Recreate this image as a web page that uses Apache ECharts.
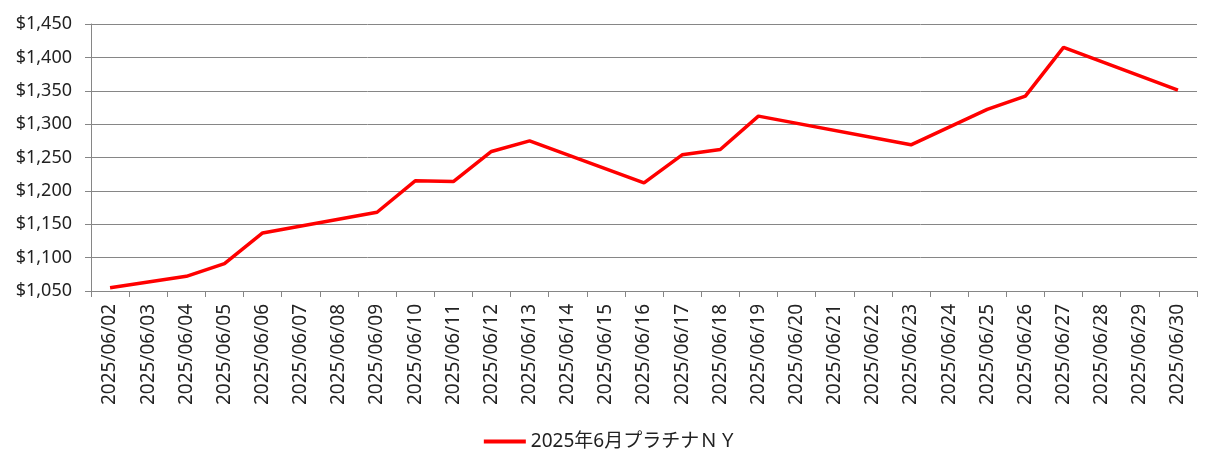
<!DOCTYPE html>
<html><head><meta charset="utf-8">
<script src="https://cdn.jsdelivr.net/npm/echarts@6/dist/echarts.min.js"></script>
<style>html,body{margin:0;padding:0;background:#fff}#c{width:1221px;height:471px}</style>
</head><body><div id="c"></div>
<script>
const categories = ["2025/06/02","2025/06/03","2025/06/04","2025/06/05","2025/06/06","2025/06/07","2025/06/08","2025/06/09","2025/06/10","2025/06/11","2025/06/12","2025/06/13","2025/06/14","2025/06/15","2025/06/16","2025/06/17","2025/06/18","2025/06/19","2025/06/20","2025/06/21","2025/06/22","2025/06/23","2025/06/24","2025/06/25","2025/06/26","2025/06/27","2025/06/28","2025/06/29","2025/06/30"];
const seriesName = "2025年6月プラチナＮＹ";
const values = [1055,null,1072,1091,1137,null,null,1168,1215,1214,1259,1275,null,null,1212,1254,1262,1312,null,null,null,1269,null,1322,1342,1415,null,null,1351];
const yMin = 1050, yMax = 1450, yStep = 50;

const chart = echarts.init(document.getElementById('c'));
const font = '"Noto Sans", "Noto Sans CJK JP", sans-serif';
chart.setOption({
  animation: false,
  grid: {left: 91, right: 24, top: 24, bottom: 180},
  legend: {
    top: 427, left: 'center',
    itemWidth: 42, itemHeight: 4, icon: 'rect', itemGap: 10,
    textStyle: {fontFamily: font, fontSize: 19, color: '#222'},
    data: [seriesName]
  },
  xAxis: {
    type: 'category', data: categories, boundaryGap: true,
    axisLine: {lineStyle: {color: '#868686', width: 1}},
    axisTick: {show: true, alignWithLabel: false, length: 6, lineStyle: {color: '#868686'}},
    axisLabel: {rotate: 90, interval: 0, margin: 13, fontFamily: font, fontSize: 19, color: '#222'}
  },
  yAxis: {
    type: 'value', min: yMin, max: yMax, interval: yStep,
    axisLine: {show: true, lineStyle: {color: '#868686', width: 1}},
    axisTick: {show: true, length: 6, lineStyle: {color: '#868686'}},
    splitLine: {lineStyle: {color: '#868686', width: 1}},
    axisLabel: {margin: 19, fontFamily: font, fontSize: 18, color: '#222',
      formatter: v => '$' + v.toLocaleString('en-US')}
  },
  series: [{
    name: seriesName, type: 'line', data: values, connectNulls: true,
    symbol: 'none', itemStyle: {color: '#ff0000'},
    lineStyle: {color: '#ff0000', width: 3.5}
  }]
});
</script></body></html>
